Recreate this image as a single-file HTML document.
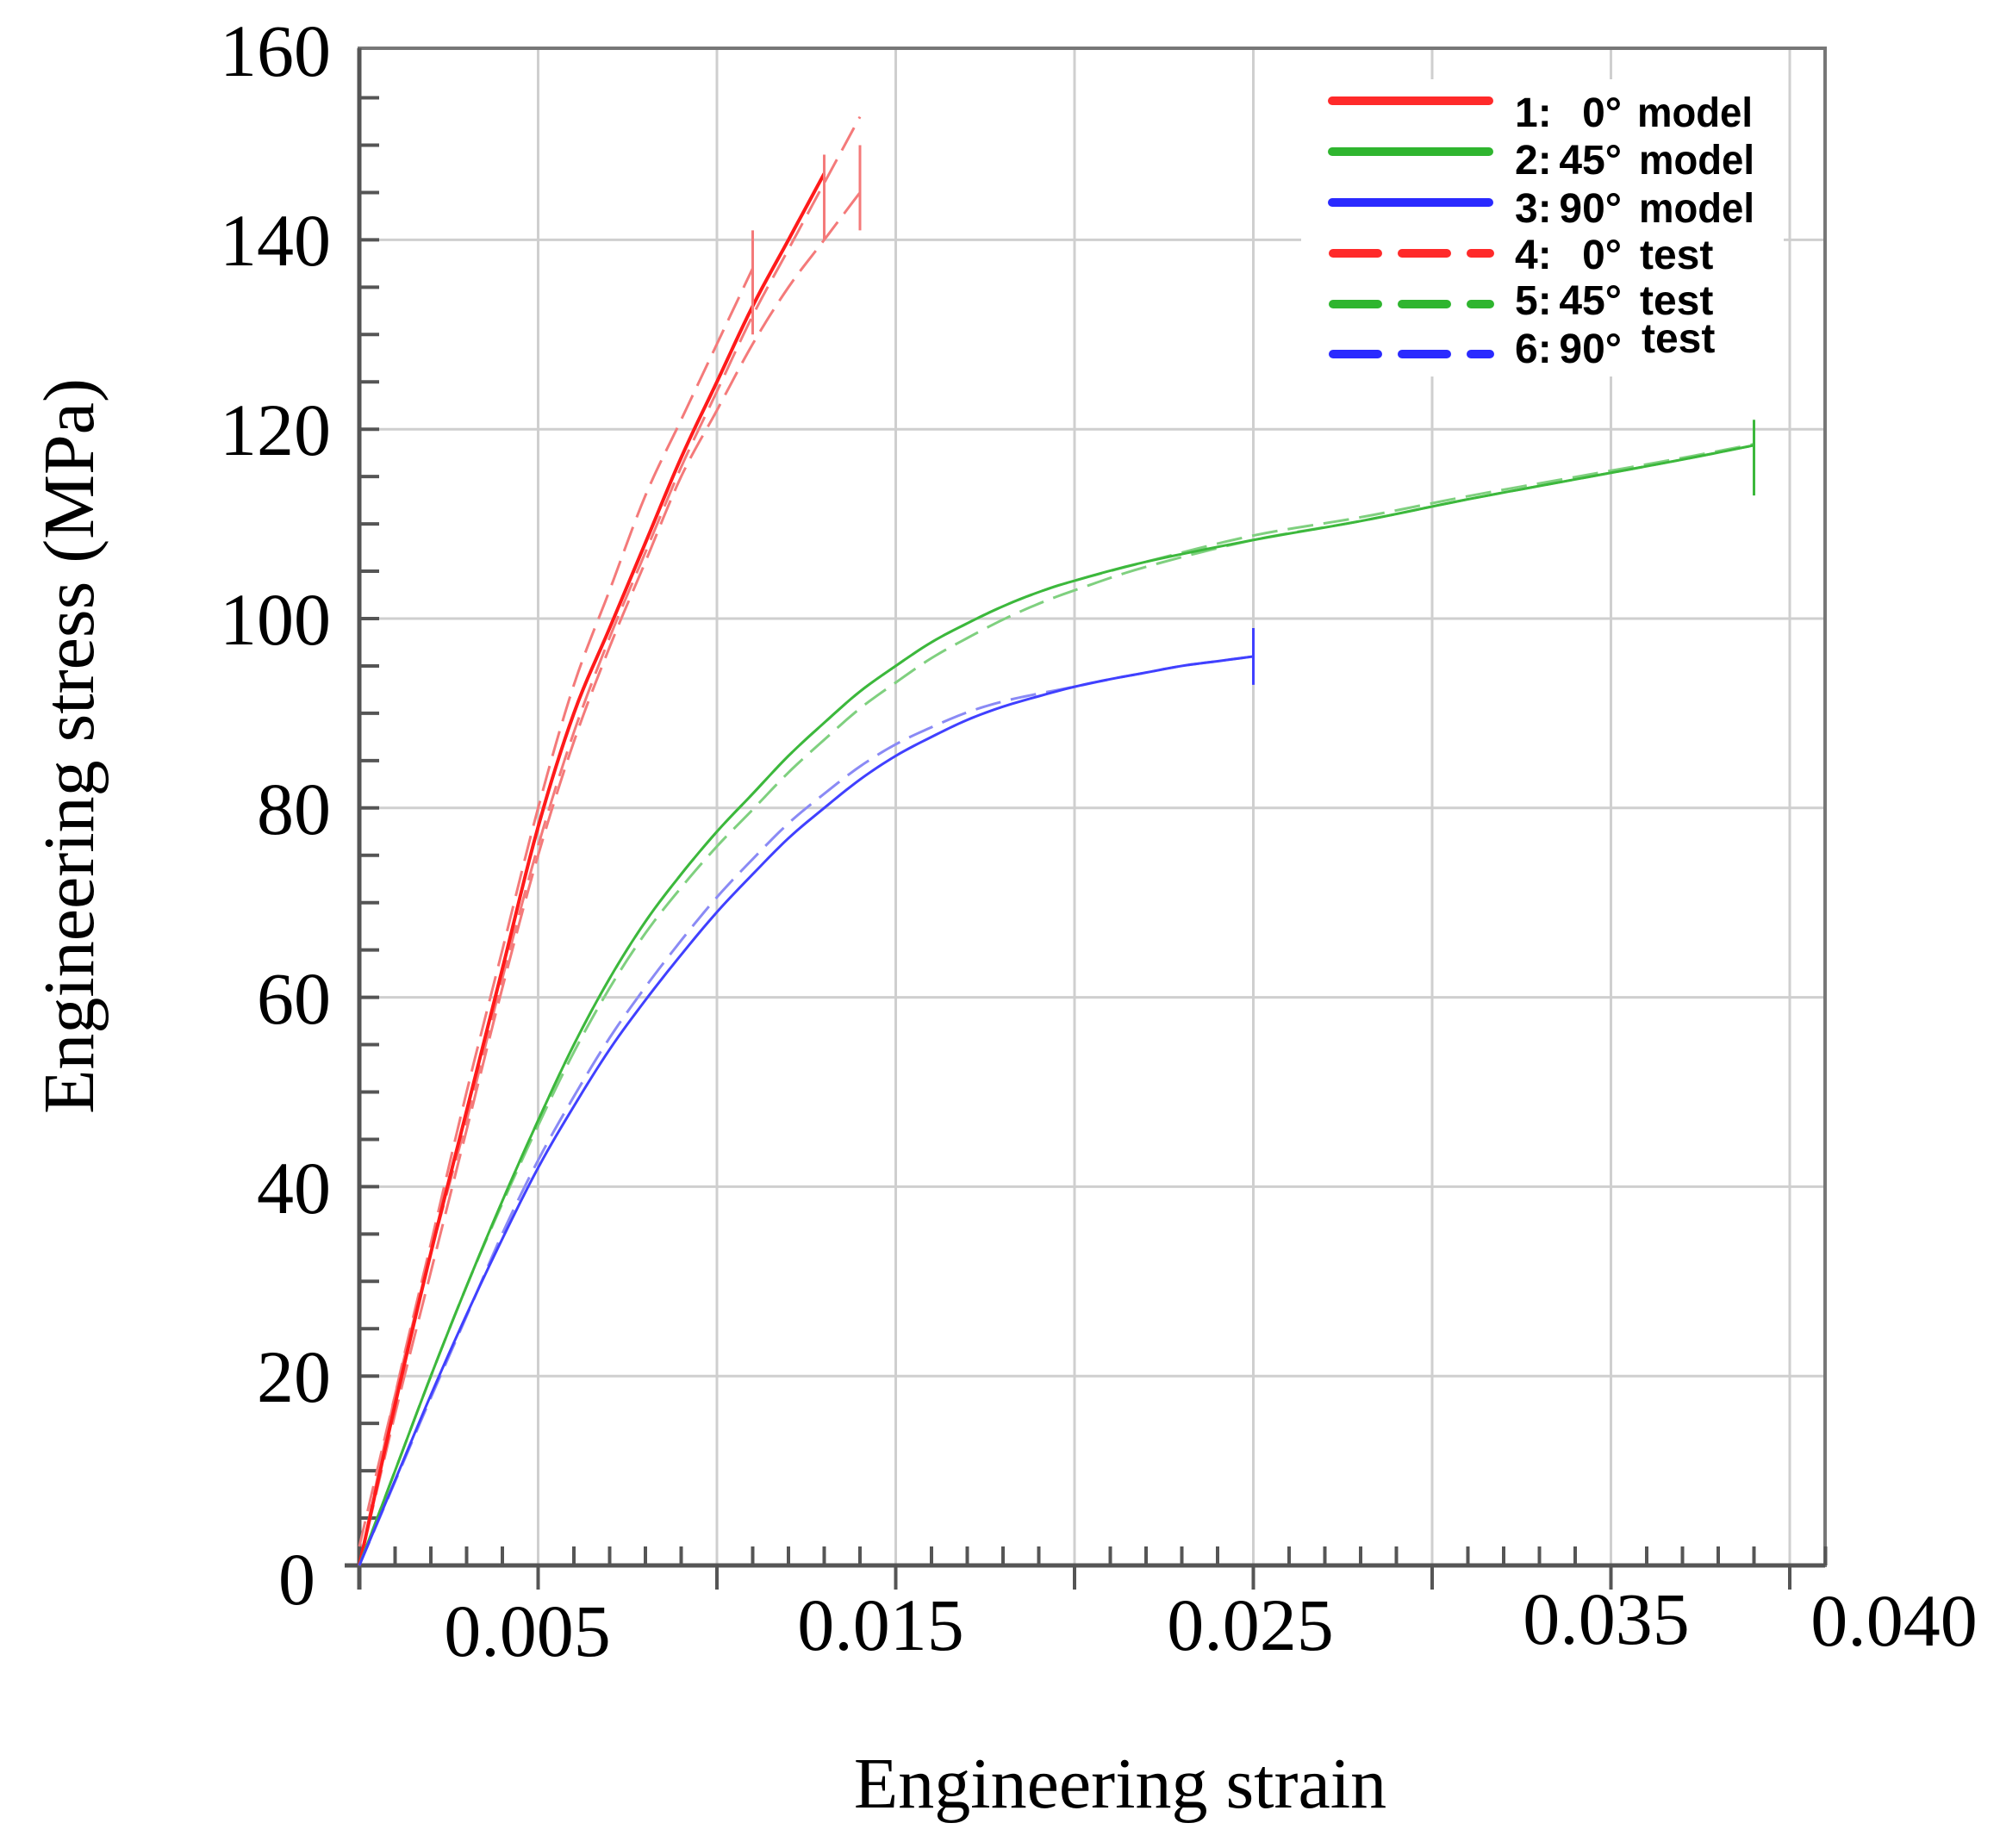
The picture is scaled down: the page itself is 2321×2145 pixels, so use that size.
<!DOCTYPE html>
<html><head><meta charset="utf-8"><style>
html,body{margin:0;padding:0;background:#fff;}
svg{display:block;}
.g{stroke:#cfcfcf;stroke-width:3;}
.d{vector-effect:non-scaling-stroke;fill:none;stroke-linejoin:round;}
</style></head><body>
<svg width="2321" height="2145" viewBox="0 0 2321 2145" xmlns="http://www.w3.org/2000/svg">
<rect width="2321" height="2145" fill="#fff"/>
<g class="g">
<line x1="624.5" y1="55" x2="624.5" y2="1817"/>
<line x1="832" y1="55" x2="832" y2="1817"/>
<line x1="1039.5" y1="55" x2="1039.5" y2="1817"/>
<line x1="1247" y1="55" x2="1247" y2="1817"/>
<line x1="1454.5" y1="55" x2="1454.5" y2="1817"/>
<line x1="1662" y1="55" x2="1662" y2="1817"/>
<line x1="1869.5" y1="55" x2="1869.5" y2="1817"/>
<line x1="2077" y1="55" x2="2077" y2="1817"/>
<line x1="417" y1="1597.2" x2="2118" y2="1597.2"/>
<line x1="417" y1="1377.4" x2="2118" y2="1377.4"/>
<line x1="417" y1="1157.6" x2="2118" y2="1157.6"/>
<line x1="417" y1="937.8" x2="2118" y2="937.8"/>
<line x1="417" y1="718" x2="2118" y2="718"/>
<line x1="417" y1="498.2" x2="2118" y2="498.2"/>
<line x1="417" y1="278.4" x2="2118" y2="278.4"/>
</g>
<rect x="1510" y="92" width="560" height="345" fill="#fff"/>
<rect x="417" y="56" width="1701" height="1761" fill="none" stroke="#777" stroke-width="4"/>
<line x1="417" y1="56" x2="417" y2="1845" stroke="#555" stroke-width="5"/>
<line x1="400" y1="1817" x2="2118" y2="1817" stroke="#555" stroke-width="5"/>
<g stroke="#555" stroke-width="4" id="ticks"></g>
<g id="curves" transform="translate(417,1817) scale(41.5,-10.99)"></g>
<g font-family="'Liberation Serif',serif" font-size="86" fill="#000" text-anchor="end">
<text x="384" y="88">160</text>
<text x="384" y="308">140</text>
<text x="384" y="528">120</text>
<text x="384" y="748">100</text>
<text x="384" y="968">80</text>
<text x="384" y="1188">60</text>
<text x="384" y="1408">40</text>
<text x="384" y="1627">20</text>
<text x="366" y="1862">0</text>
</g>
<g font-family="'Liberation Serif',serif" font-size="86" fill="#000" text-anchor="middle">
<text x="612" y="1922">0.005</text>
<text x="1022" y="1915">0.015</text>
<text x="1451" y="1915">0.025</text>
<text x="1864" y="1908">0.035</text>
<text x="2198" y="1910">0.040</text>
<text x="1300" y="2098" font-size="84">Engineering strain</text>
<text transform="translate(108,866) rotate(-90)" font-size="84">Engineering stress (MPa)</text>
</g>
<g stroke-width="10" stroke-linecap="round">
<line x1="1546" y1="117" x2="1728" y2="117" stroke="#ff2a2a"/>
<line x1="1546" y1="176" x2="1728" y2="176" stroke="#2fb52f"/>
<line x1="1546" y1="235" x2="1728" y2="235" stroke="#2a2aff"/>
<g stroke-dasharray="52 28">
<line x1="1547" y1="294" x2="1729" y2="294" stroke="#ff2a2a"/>
<line x1="1547" y1="353" x2="1729" y2="353" stroke="#2fb52f"/>
<line x1="1547" y1="411" x2="1729" y2="411" stroke="#2a2aff"/>
</g>
</g>
<g font-family="'Liberation Sans',sans-serif" font-weight="bold" font-size="48" fill="#000">
<text x="1758" y="147">1:</text><text x="1882" y="147" text-anchor="end">0°</text><text x="1900" y="147" textLength="134" lengthAdjust="spacingAndGlyphs">model</text>
<text x="1758" y="202">2:</text><text x="1882" y="202" text-anchor="end">45°</text><text x="1902" y="202" textLength="134" lengthAdjust="spacingAndGlyphs">model</text>
<text x="1758" y="258">3:</text><text x="1882" y="258" text-anchor="end">90°</text><text x="1902" y="258" textLength="134" lengthAdjust="spacingAndGlyphs">model</text>
<text x="1758" y="312">4:</text><text x="1882" y="312" text-anchor="end">0°</text><text x="1903" y="312">test</text>
<text x="1758" y="365">5:</text><text x="1882" y="365" text-anchor="end">45°</text><text x="1903" y="365">test</text>
<text x="1758" y="421">6:</text><text x="1882" y="421" text-anchor="end">90°</text><text x="1905" y="409">test</text>
</g>
</svg>
<script>
var NS="http://www.w3.org/2000/svg";
var t=document.getElementById("ticks");
function ln(p,x1,y1,x2,y2){var l=document.createElementNS(NS,"line");l.setAttribute("x1",x1);l.setAttribute("y1",y1);l.setAttribute("x2",x2);l.setAttribute("y2",y2);p.appendChild(l);return l;}
for(var i=1;i<=41;i++){var x=417+41.5*i;if(i%5==0){ln(t,x,1817,x,1845);}else ln(t,x,1817,x,1795);}
for(var s=5;s<160;s+=5){var y=1817-10.99*s;ln(t,417,y,440,y);}
var c=document.getElementById("curves");
function smooth(pts){var out=[];for(var i=0;i<pts.length-1;i++){var p0=pts[Math.max(0,i-1)],p1=pts[i],p2=pts[i+1],p3=pts[Math.min(pts.length-1,i+2)];for(var k=0;k<8;k++){var u=k/8,u2=u*u,u3=u2*u;function f(a,b,c2,d){return 0.5*((2*b)+(-a+c2)*u+(2*a-5*b+4*c2-d)*u2+(-a+3*b-3*c2+d)*u3);}out.push([f(p0[0],p1[0],p2[0],p3[0]),f(p0[1],p1[1],p2[1],p3[1])]);}}out.push(pts[pts.length-1]);return out;}
function pl(pts,col,w,dash){pts=smooth(pts);var p=document.createElementNS(NS,"polyline");p.setAttribute("points",pts.map(function(a){return a[0].toFixed(3)+","+a[1].toFixed(3)}).join(" "));p.setAttribute("class","d");p.setAttribute("stroke",col);p.setAttribute("stroke-width",w);if(dash)p.setAttribute("stroke-dasharray",dash);c.appendChild(p);}
function vm(x,a,b,col){pl([[x,a],[x,b]],col,3);}
var redM=[[0,0],[1,17],[2,33],[3,48],[4,63],[5,78],[6,90],[7,99],[8,108],[9,117],[10,125],[11,133],[12,140],[13,147]];
var redT1=[[0,0],[1,18],[2,34],[3,50],[4,65],[5,80],[6,93],[7,103],[8,113],[9,121],[10,129],[11,137]];
var redT2=[[0,2],[1,18],[2,33],[3,47],[4,62],[5,76],[6,88],[7,98],[8,107],[9,116],[10,124],[11,132],[12,139],[13,146],[14,153]];
var redT3=[[0,0],[1,16],[2,31],[3,46],[4,61],[5,75],[6,87],[7,97],[8,106],[9,115],[10,122],[11,129],[12,135],[13,140],[14,145]];
pl(redT1,"#f47a7a",3,"30 12");pl(redT2,"#f47a7a",3,"30 12");pl(redT3,"#f47a7a",3,"30 12");
pl(redM,"#ff1a1a",4);
vm(11,130,141,"#f47a7a");vm(13,140,149,"#f47a7a");vm(14,141,150,"#f47a7a");
var grM=[[0,0],[1,10],[2,20],[3,29.5],[4,38.5],[5,47],[6,55],[7,62],[8,68],[9,73],[10,77.5],[11,81.5],[12,85.5],[13,89],[14,92.3],[15,95],[16,97.5],[17,99.5],[18,101.3],[19,102.8],[20,104],[22,106],[25,108.3],[28,110.3],[31,112.6],[34,114.7],[37,116.8],[39,118.3]];
var grT=grM.map(function(p){var x=p[0];var d=(x>3&&x<24)?-1.8*Math.sin(Math.PI*(x-3)/21):0;return [x,p[1]+d];});
var grT2=grM.map(function(p){var x=p[0];var d=x>24?0.5-0.025*(x-24):0;return [x,p[1]+d];});
pl(grT,"#7fd07f",3,"30 12");pl(grT2,"#7fd07f",3,"30 12");
pl(grM,"#3cb83c",3);
vm(39,113,121,"#3cb83c");
var blM=[[0,0],[1,9],[2,18],[3,26.5],[4,34.5],[5,42],[6,48.5],[7,54.5],[8,59.7],[9,64.5],[10,69],[11,73],[12,76.8],[13,80],[14,83],[15,85.5],[16,87.5],[17,89.3],[18,90.7],[19,91.8],[20,92.8],[21,93.6],[22,94.3],[23,95],[24,95.5],[25,96]];
var blT=blM.map(function(p){var x=p[0];var d=(x>2&&x<20)?1.6*Math.sin(Math.PI*(x-2)/18):0;return [x,p[1]+d-(x<4?0.6*x/4:0)];});
pl(blT,"#8a8af5",3,"30 12");
pl(blM,"#4040ff",3);
vm(25,93,99,"#4040ff");
</script>
</body></html>
